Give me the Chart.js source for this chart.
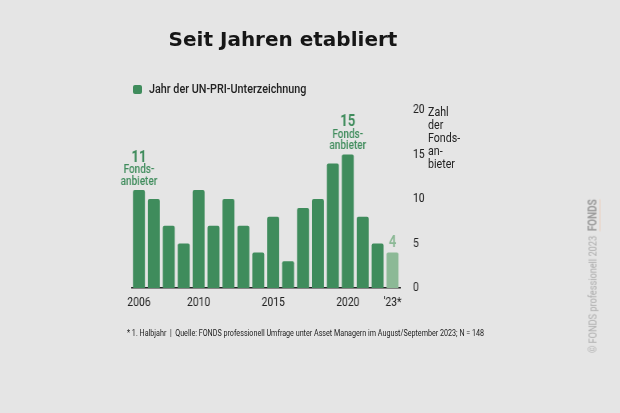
<!DOCTYPE html>
<html>
<head>
<meta charset="utf-8">
<script src="https://cdn.jsdelivr.net/npm/chart.js@4.4.0/dist/chart.umd.min.js"></script>
<style>
  body { margin: 0; background: #e5e5e5; }
  #wrap { position: relative; width: 620px; height: 413px; overflow: hidden; background: #e5e5e5; }
  /* the chart is drawn wider and squeezed, so its text looks like a condensed face */
  #squeeze { position: absolute; left: 0; top: 0; width: 775px; height: 413px; transform: scaleX(0.8); transform-origin: 0 0; }
  .txt { position: absolute; font-family: Roboto, sans-serif; color: #222; white-space: nowrap; transform-origin: 0 50%; }
  #title { left: 0; width: 566px; top: 27px; text-align: center; font-family: "DejaVu Sans", sans-serif; font-weight: bold; font-size: 20px; color: #161616; }
  #legend { left: 133px; top: 80px; font-size: 13.5px; font-weight: 500; }
  #legend span.box { display: inline-block; width: 9px; height: 9px; border-radius: 2px; background: #3f8c5c; margin-right: 7px; vertical-align: -1px; }
  #legend span.lbl { display: inline-block; transform: scaleX(0.8); transform-origin: 0 50%; }
  #unit { left: 428px; top: 105px; font-size: 13px; line-height: 13px; transform: scaleX(0.82); }
  #note { left: 127px; top: 327px; font-size: 9.5px; transform: scaleX(0.755); }
  #mark { left: 592px; top: 276px; font-size: 11.5px; color: #ababab; transform: translate(-50%, -50%) rotate(-90deg) scaleX(0.8); transform-origin: 50% 50%; }
  #mark b { color: #9a9a9a; font-size: 12.5px; border-bottom: 1px solid #ecd2c2; }
</style>
</head>
<body>
<div id="wrap">
  <div id="squeeze"><canvas id="chart" width="775" height="413"></canvas></div>
  <div class="txt" id="title">Seit Jahren etabliert</div>
  <div class="txt" id="legend"><span class="box"></span><span class="lbl">Jahr der UN-PRI-Unterzeichnung</span></div>
  <div class="txt" id="unit">Zahl<br>der<br>Fonds-<br>an-<br>bieter</div>
  <div class="txt" id="note">* 1. Halbjahr &nbsp;|&nbsp; Quelle: FONDS professionell Umfrage unter Asset Managern im August/September 2023; N = 148</div>
  <div class="txt" id="mark">© FONDS professionell 2023 &nbsp;<b>FONDS</b></div>
</div>
<script>
const years = ['2006', '2007', '2008', '2009', '2010', '2011', '2012', '2013', '2014',
  '2015', '2016', '2017', '2018', '2019', '2020', '2021', '2022', '2023'];
const tickLabels = ['2006', '', '', '', '2010', '', '', '', '', '2015', '', '', '', '', '2020', '', '', "'23*"];
const signers = [11, 10, 7, 5, 11, 7, 10, 7, 4, 8, 3, 9, 10, 14, 15, 8, 5, 4];
const yTicks = [0, 5, 10, 15, 20];
// callouts: index of bar, big number, lines below it
const callouts = [
  { idx: 0, big: '11', lines: ['Fonds-', 'anbieter'] },
  { idx: 14, big: '15', lines: ['Fonds-', 'anbieter'] },
  { idx: 17, big: '4', lines: [] }
];

const green = '#3f8c5c';
const lightGreen = '#8cb996';
const sx = 0.8; // horizontal squeeze of the canvas

let calloutPlugin = {
  id: 'callouts',
  afterDatasetsDraw(chart) {
    let ctx = chart.ctx;
    let x = chart.scales.x;
    let y = chart.scales.y;
    ctx.save();
    ctx.textAlign = 'center';
    ctx.textBaseline = 'middle';
    callouts.forEach(c => {
      let cx = x.getPixelForValue(c.idx);
      let top = y.getPixelForValue(signers[c.idx]);
      let last = c.idx == signers.length - 1;
      ctx.fillStyle = last ? lightGreen : green;
      let lineY = top - 8.5;
      for (let i = c.lines.length - 1; i >= 0; i--) {
        ctx.font = '500 12.5px Roboto';
        ctx.fillText(c.lines[i], cx, lineY);
        lineY -= 11.5;
      }
      ctx.font = 'bold 16.5px Roboto';
      ctx.fillText(c.big, cx, lineY - 1);
    });
    ctx.restore();
  }
};

new Chart(document.getElementById('chart'), {
  type: 'bar',
  data: {
    labels: years,
    datasets: [{
      data: signers,
      backgroundColor: signers.map((v, i) => i == signers.length - 1 ? lightGreen : green),
      borderRadius: { topLeft: 2, topRight: 2 },
      borderSkipped: 'bottom',
      barPercentage: 0.8,
      categoryPercentage: 1
    }]
  },
  options: {
    responsive: false,
    animation: false,
    devicePixelRatio: 1,
    layout: { padding: { left: 131.5 / sx, top: 110, right: 775 - 400 / sx - 50, bottom: 105 } },
    plugins: { legend: { display: false }, tooltip: { enabled: false } },
    scales: {
      x: {
        afterFit: s => { s.height = 20; },
        grid: { display: false, drawTicks: false },
        border: { display: true, color: '#222', width: 1.5 },
        ticks: {
          autoSkip: false, maxRotation: 0, padding: 7, color: '#222',
          font: { family: 'Roboto', size: 13 },
          callback: (v, i) => tickLabels[i]
        }
      },
      y: {
        position: 'right',
        min: 0, max: 20,
        afterFit: s => { s.width = 50; },
        afterBuildTicks: s => { s.ticks = yTicks.map(v => ({ value: v })); },
        grid: { display: false, drawTicks: false },
        border: { display: false },
        ticks: { padding: 13 / sx, color: '#222', font: { family: 'Roboto', size: 13 } }
      }
    }
  },
  plugins: [calloutPlugin]
});
</script>
</body>
</html>
